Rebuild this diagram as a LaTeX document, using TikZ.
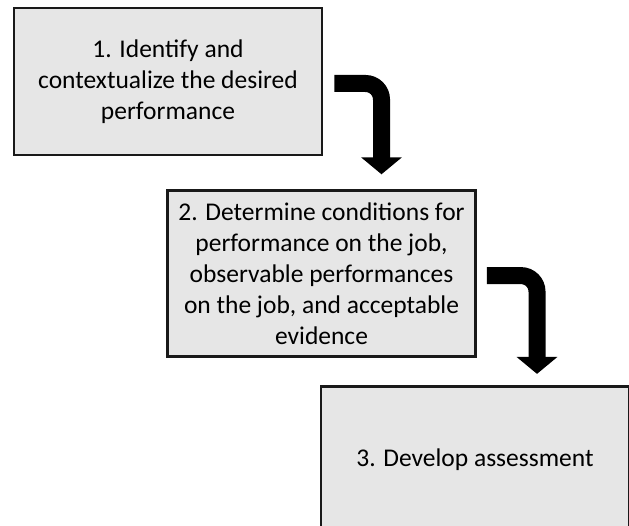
\documentclass[tikz,border=0pt]{standalone}
\usepackage{fontspec}
\setmainfont{Carlito}
\usetikzlibrary{arrows.meta,positioning}
\definecolor{boxgrey}{RGB}{230,230,230}
\tikzset{
  box/.style={draw=black!90, fill=boxgrey, line width=2.6pt, align=center, minimum width=308pt, inner sep=4pt, font=\fontsize{25.5}{31}\selectfont},
  turn/.style={-{Triangle[length=17pt,width=40pt]}, line width=17pt, rounded corners=16pt}
}

\begin{document}
\begin{tikzpicture}
\useasboundingbox (0,0) rectangle (629pt,-526pt);
\node[box, minimum height=147pt] (s1) at (168pt,-81.5pt) {1. Identify and\\contextualize the desired\\performance};
\node[box, minimum height=166pt, below=33pt of s1, xshift=153.5pt] (s2) {2. Determine conditions for\\performance on the job,\\observable performances\\on the job, and acceptable\\evidence};
\node[box, minimum height=148pt, below=27pt of s2, xshift=153.5pt] (s3) {3. Develop assessment};
\draw[turn] ([xshift=11pt,yshift=-2pt]s1.east) -| ([xshift=60pt,yshift=15pt]s2.north);
\draw[turn] ([xshift=10pt,yshift=-2pt]s2.east) -| ([xshift=62pt,yshift=11pt]s3.north);
\end{tikzpicture}
\end{document}
